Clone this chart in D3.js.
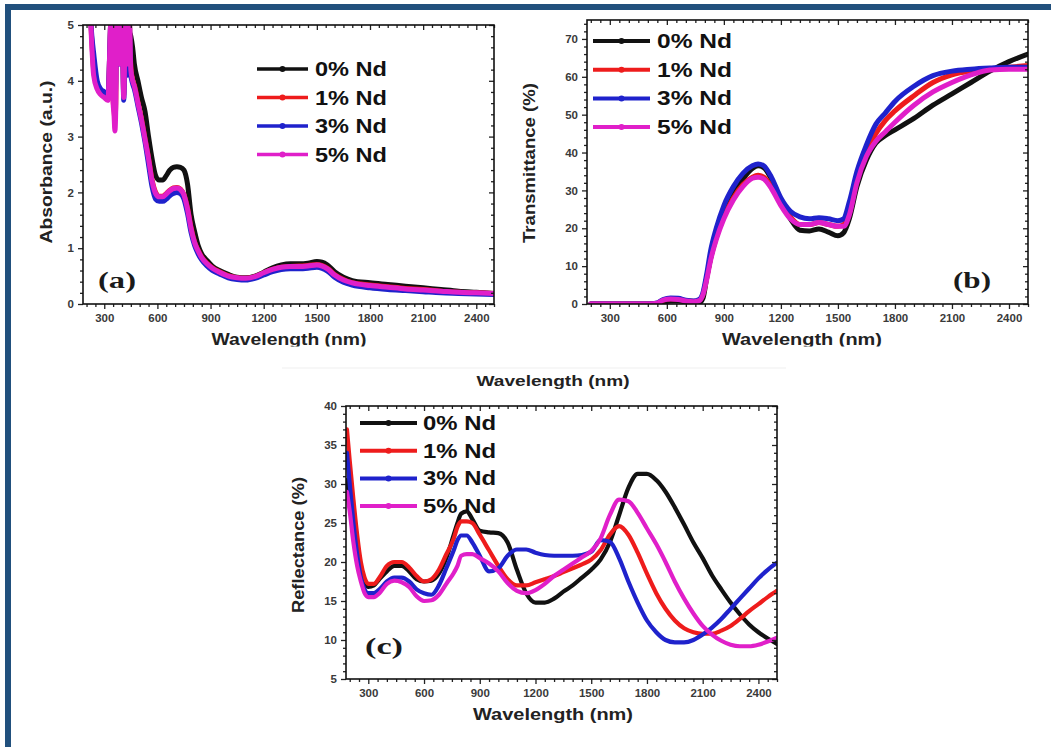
<!DOCTYPE html>
<html>
<head>
<meta charset="utf-8">
<script src="https://cdn.jsdelivr.net/npm/d3@7"></script>
<style>
  html, body { margin: 0; padding: 0; background: #ffffff; }
  svg { display: block; }
</style>
</head>
<body>
<svg id="fig" width="1051" height="747"></svg>
<script>
// ---- Shared labels ----
const seriesNames = ["0% Nd", "1% Nd", "3% Nd", "5% Nd"];
const xTickValues = [300, 600, 900, 1200, 1500, 1800, 2100, 2400];
const absTickValues = [0, 1, 2, 3, 4, 5];
const transTickValues = [0, 10, 20, 30, 40, 50, 60, 70];
const reflTickValues = [5, 10, 15, 20, 25, 30, 35, 40];

// ---- (a) Absorbance ----
const wlAbs = [210,220,230,240,260,280,300,320,340,350,355,360,365,370,375,380,390,400,410,420,430,440,450,460,470,
  490,510,530,550,570,590,610,630,650,670,690,710,730,750,770,790,810,830,850,880,910,950,
  1000,1050,1100,1150,1200,1250,1300,1350,1400,1450,1500,1530,1560,1600,1650,1700,
  1800,1900,2000,2100,2200,2300,2400,2500];
const abs0 = [null,null,null,null,null,null,null,null,5.2,4.9,5.2,4.6,5.2,4.8,5.2,4.7,5.2,4.7,5.2,4.8,5.2,4.9,4.8,4.6,4.3,
  4.0,3.7,3.45,3.0,2.6,2.3,2.22,2.22,2.3,2.4,2.45,2.46,2.45,2.4,2.15,1.6,1.3,1.05,0.9,0.78,0.68,0.6,
  0.53,0.48,0.47,0.5,0.57,0.65,0.7,0.72,0.72,0.73,0.76,0.75,0.7,0.58,0.48,0.42,
  0.38,0.35,0.32,0.29,0.26,0.23,0.21,0.19];
const abs1 = [5.2,5.2,4.7,4.2,3.9,3.8,3.72,3.66,5.2,3.65,3.5,3.3,3.6,5.2,4.5,5.2,4.4,5.2,3.75,5.2,4.4,5.2,4.25,4.02,3.92,
  3.62,3.32,2.97,2.62,2.22,2.0,1.93,1.93,1.98,2.04,2.08,2.09,2.06,1.96,1.72,1.37,1.11,0.96,0.84,0.73,0.65,0.58,
  0.51,0.47,0.46,0.49,0.56,0.62,0.66,0.67,0.68,0.69,0.71,0.69,0.64,0.53,0.44,0.38,
  0.34,0.31,0.28,0.26,0.23,0.21,0.2,0.19];
const abs3 = [5.2,5.2,4.8,4.5,4.0,3.85,3.8,3.7,5.2,3.7,4.3,3.6,4.0,5.2,4.6,4.3,4.3,5.2,3.65,4.9,4.1,5.2,4.1,3.95,3.85,
  3.55,3.25,2.9,2.5,2.1,1.88,1.84,1.84,1.88,1.94,1.98,2.0,1.98,1.88,1.62,1.28,1.05,0.9,0.79,0.68,0.6,0.54,
  0.47,0.44,0.43,0.46,0.52,0.58,0.62,0.63,0.63,0.64,0.66,0.64,0.59,0.48,0.39,0.34,
  0.29,0.26,0.24,0.22,0.2,0.19,0.18,0.17];
const abs5 = [5.2,5.2,4.6,4.1,3.85,3.75,3.7,3.65,5.2,3.6,3.4,3.1,3.5,5.2,4.4,5.2,4.3,5.2,3.7,5.2,4.3,5.2,4.2,4.0,3.9,
  3.6,3.3,2.95,2.6,2.2,1.98,1.92,1.92,1.97,2.03,2.07,2.08,2.05,1.95,1.7,1.35,1.1,0.95,0.83,0.72,0.64,0.57,
  0.5,0.47,0.46,0.49,0.56,0.62,0.66,0.67,0.67,0.68,0.7,0.68,0.63,0.52,0.43,0.38,
  0.33,0.3,0.27,0.25,0.23,0.21,0.2,0.19];

// ---- (b) Transmittance ----
const wlTrans = [200,300,400,500,550,580,620,660,700,740,770,790,810,830,860,900,950,1000,1050,1080,
  1110,1150,1200,1250,1300,1350,1400,1450,1500,1530,1560,1600,1650,1700,1750,1800,1900,2000,2100,2200,2300,2400,2500];
const trans0 = [0,0,0,0,0,0.3,0.8,0.8,0.6,0.3,0.3,1.5,7,12,18,24,29,33,35.8,36.5,
  36,33,27,22.5,19.5,19.3,19.8,19,18,18.8,22.5,31,38,42.5,44.5,46,49,52.5,55.5,58.5,61.5,64,66];
const trans1 = [0,0,0,0,0.2,1.0,1.4,1.3,0.9,0.7,1.0,2.5,7,12,17.5,23,28,31.5,33.5,34,
  33.5,31,26.5,23,21,21,21.5,21,20.5,21,24,33,40,45,48.5,51,55,58.5,60.5,61.5,62,62.5,63];
const trans3 = [0,0,0,0,0.3,1.2,1.6,1.5,1.0,0.8,1.2,3,8,14,20,26,31,34.5,36.5,37,
  36.5,33.5,28,24.5,23,22.5,22.8,22.5,22,22.5,27,35,42,47.5,50.5,53.5,57.5,60.3,61.5,62,62.3,62.5,62.5];
const trans5 = [0,0,0,0,0.2,1.0,1.3,1.2,0.8,0.6,0.9,2.5,6.5,11.5,17,22.5,27.5,31,33.2,33.5,
  33,30.5,26,22.5,21,21,21.5,21,20.5,20.5,23.5,32,39,43,45.5,48,52.5,56,58.5,60.5,61.8,62,62];

// ---- (c) Reflectance ----
const wlRefl = [185,200,220,240,260,280,300,330,360,400,440,480,520,560,600,640,680,720,760,780,800,830,860,900,950,
  1000,1050,1100,1150,1200,1250,1300,1350,1400,1450,1500,1550,1600,1650,1700,1750,1800,1850,1900,1950,
  2000,2050,2100,2150,2200,2250,2300,2350,2400,2450,2500];
const refl0 = [30.5,28,24,21,18.5,17.3,16.8,17,17.8,18.8,19.5,19.5,18.8,17.8,17.5,17.6,18.5,20.5,23.5,25,26.2,26.5,25.5,24,23.8,
  23.7,22.5,19,16,14.8,14.8,15.3,16.2,17,18,19,20.3,22.5,26,29.5,31.3,31.3,30.5,29,27,
  24.8,22.5,20.5,18.3,16.5,14.8,13.3,12,11,10.2,9.5];
const refl1 = [37,33,28,23.5,20,18,17.2,17.2,18,19.5,20,20,19.3,18.2,17.5,17.8,19,21,23,24.5,25.2,25.2,25,23.5,21.5,
  19.5,17.8,17,17,17.4,17.8,18.2,18.7,19.2,19.7,20.3,21.5,23.5,24.6,23.5,21.2,18.5,16,14,12.5,
  11.5,11,10.8,10.8,11.2,11.8,12.7,13.7,14.6,15.5,16.3];
const refl3 = [34,30,25,21,18,16.5,16,16,16.5,17.5,18,18,17.5,16.5,16,15.8,17,19.2,21.5,22.8,23.4,23.4,22.5,20.8,18.8,
  19.2,20.8,21.6,21.6,21.2,20.9,20.8,20.8,20.8,20.9,21.3,22.8,22.6,20.5,17.5,14.8,12.5,11,10,9.7,
  9.7,10,10.7,11.6,12.7,14,15.3,16.6,17.9,19,19.9];
const refl5 = [29,26.5,22.5,19.5,17.5,16,15.5,15.5,16,17.2,17.6,17.4,16.8,15.6,15,15.1,15.8,17.2,18.6,19.5,20.8,21,21,20.5,19.8,
  18.8,17.3,16.3,16,16.4,17.2,18.2,19,19.8,20.6,21.4,23,26,28,27.8,26.3,24.3,22.3,20,17.5,
  15.3,13.4,11.8,10.7,9.9,9.4,9.2,9.2,9.4,9.8,10.3];

// ---- Drawing ----
const seriesColors = ["#111111", "#ee1c1c", "#1f22cc", "#e01fc9"];
const fontSans = "'Liberation Sans', Arial, Helvetica, sans-serif";
const fontSerif = "'Liberation Serif', 'Times New Roman', serif";
const plainNumber = d3.format("d");

const svg = d3.select("#fig");
const defs = svg.append("defs");

svg.append("rect").attr("width", 1051).attr("height", 747).attr("fill", "#ffffff");

// outer frame (top bar and left bar)
svg.append("rect").attr("x", 5).attr("y", 4).attr("width", 1046).attr("height", 6).attr("fill", "#21507d");
svg.append("rect").attr("x", 5).attr("y", 4).attr("width", 6).attr("height", 743).attr("fill", "#21507d");

// faint edge of the lower figure
svg.append("line").attr("x1", 282).attr("x2", 786).attr("y1", 368).attr("y2", 368)
  .attr("stroke", "#efefef").attr("stroke-width", 1);

// clip for the cut-off bottom titles of the upper panels
defs.append("clipPath").attr("id", "clip-upper").append("rect")
  .attr("x", 0).attr("y", 0).attr("width", 1051).attr("height", 346.5);

function drawPanel(p) {
  const x = d3.scaleLinear().domain([180, 2500]).range([p.left, p.right]);
  const y = d3.scaleLinear().domain(p.yDomain).range([p.bottom, p.top]);
  const clipId = "clip-" + p.id;
  defs.append("clipPath").attr("id", clipId).append("rect")
    .attr("x", p.left).attr("y", p.top)
    .attr("width", p.right - p.left).attr("height", p.bottom - p.top);

  const g = svg.append("g");
  const line = d3.line()
    .defined(d => d[1] != null)
    .x(d => x(d[0])).y(d => y(d[1]))
    .curve(d3.curveMonotoneX);

  p.series.forEach((vals, i) => {
    g.append("path")
      .datum(p.wl.map((w, j) => [w, vals[j]]))
      .attr("clip-path", `url(#${clipId})`)
      .attr("d", line)
      .attr("fill", "none")
      .attr("stroke", seriesColors[i])
      .attr("stroke-width", p.lw)
      .attr("stroke-linejoin", "round")
      .attr("stroke-linecap", "round");
  });

  // axes
  const xMinor = d3.range(200, 2501, 50).filter(v => v % 300 !== 0);
  const [y0, y1] = p.yDomain;
  const yMinor = d3.range(y0, y1 + 1e-9, p.yMinorStep)
    .filter(v => !p.yTicks.some(t => Math.abs(t - v) < 1e-6));

  function styleAxis(sel) {
    sel.select(".domain").remove();
    sel.selectAll(".tick line").attr("stroke", "#222").attr("stroke-width", 1.3);
    sel.selectAll(".tick text")
      .attr("font-family", fontSans).attr("font-weight", "bold")
      .attr("font-size", 11.5).attr("fill", "#3a3a3a");
  }

  g.append("g").attr("transform", `translate(0,${p.bottom})`)
    .call(d3.axisBottom(x).tickValues(xTickValues).tickFormat(plainNumber).tickSize(5).tickPadding(5)).call(styleAxis);
  g.append("g").attr("transform", `translate(0,${p.bottom})`)
    .call(d3.axisBottom(x).tickValues(xMinor).tickSize(3).tickFormat("")).call(styleAxis);
  g.append("g").attr("transform", `translate(0,${p.top})`)
    .call(d3.axisTop(x).tickValues(xTickValues).tickSize(-5).tickFormat("")).call(styleAxis);
  g.append("g").attr("transform", `translate(0,${p.top})`)
    .call(d3.axisTop(x).tickValues(xMinor).tickSize(-3).tickFormat("")).call(styleAxis);

  g.append("g").attr("transform", `translate(${p.left},0)`)
    .call(d3.axisLeft(y).tickValues(p.yTicks).tickFormat(plainNumber).tickSize(5).tickPadding(4)).call(styleAxis);
  g.append("g").attr("transform", `translate(${p.left},0)`)
    .call(d3.axisLeft(y).tickValues(yMinor).tickSize(3).tickFormat("")).call(styleAxis);
  g.append("g").attr("transform", `translate(${p.right},0)`)
    .call(d3.axisRight(y).tickValues(p.yTicks).tickSize(-5).tickFormat("")).call(styleAxis);
  g.append("g").attr("transform", `translate(${p.right},0)`)
    .call(d3.axisRight(y).tickValues(yMinor).tickSize(-3).tickFormat("")).call(styleAxis);

  g.append("rect")
    .attr("x", p.left).attr("y", p.top)
    .attr("width", p.right - p.left).attr("height", p.bottom - p.top)
    .attr("fill", "none").attr("stroke", "#111").attr("stroke-width", 1.6);

  // y title
  g.append("text")
    .attr("transform", `translate(${p.yTitle.x},${p.yTitle.y}) rotate(-90)`)
    .attr("text-anchor", "middle")
    .attr("font-family", fontSans).attr("font-weight", "bold")
    .attr("font-size", 16).attr("fill", "#222")
    .attr("textLength", p.yTitle.len).attr("lengthAdjust", "spacingAndGlyphs")
    .text(p.yTitle.text);

  // x title(s)
  p.xTitles.forEach(t => {
    const tx = g.append("text")
      .attr("x", t.x).attr("y", t.y)
      .attr("text-anchor", "middle")
      .attr("font-family", fontSans).attr("font-weight", "bold")
      .attr("font-size", t.size).attr("fill", "#222")
      .attr("textLength", t.len).attr("lengthAdjust", "spacingAndGlyphs")
      .text("Wavelength (nm)");
    if (t.clip) tx.attr("clip-path", "url(#clip-upper)");
  });

  // panel tag
  g.append("text")
    .attr("x", p.tag.x).attr("y", p.tag.y)
    .attr("font-family", fontSerif).attr("font-weight", "bold")
    .attr("font-size", 24).attr("fill", "#1a1a1a")
    .attr("textLength", 38).attr("lengthAdjust", "spacingAndGlyphs")
    .text(p.tag.text);

  // legend
  seriesNames.forEach((name, i) => {
    const ry = p.legend.y + i * p.legend.dy;
    g.append("line")
      .attr("x1", p.legend.x0).attr("x2", p.legend.x1)
      .attr("y1", ry).attr("y2", ry)
      .attr("stroke", seriesColors[i]).attr("stroke-width", p.legend.lw);
    g.append("circle")
      .attr("cx", (p.legend.x0 + p.legend.x1) / 2).attr("cy", ry).attr("r", 3)
      .attr("fill", seriesColors[i]);
    g.append("text")
      .attr("x", p.legend.tx).attr("y", ry + 7)
      .attr("font-family", fontSans).attr("font-weight", "bold")
      .attr("font-size", 19.5).attr("fill", "#111")
      .attr("textLength", p.legend.tlen).attr("lengthAdjust", "spacingAndGlyphs")
      .text(name);
  });
}

drawPanel({
  id: "a", left: 83, right: 494, top: 25, bottom: 304,
  yDomain: [0, 5], yTicks: absTickValues, yMinorStep: 0.2,
  wl: wlAbs, series: [abs0, abs1, abs3, abs5], lw: 5,
  yTitle: { text: "Absorbance (a.u.)", x: 52, y: 162, len: 163 },
  xTitles: [{ x: 289, y: 345, size: 17, len: 155, clip: true }],
  tag: { text: "(a)", x: 98, y: 288 },
  legend: { x0: 257, x1: 308, y: 69, dy: 28.5, lw: 3.5, tx: 315, tlen: 72 }
});

drawPanel({
  id: "b", left: 587, right: 1028, top: 20, bottom: 304,
  yDomain: [0, 75], yTicks: transTickValues, yMinorStep: 2,
  wl: wlTrans, series: [trans0, trans1, trans3, trans5], lw: 5,
  yTitle: { text: "Transmittance (%)", x: 535, y: 163, len: 160 },
  xTitles: [{ x: 802, y: 345, size: 17, len: 160, clip: true }],
  tag: { text: "(b)", x: 953, y: 288 },
  legend: { x0: 593, x1: 650, y: 41, dy: 28.7, lw: 4, tx: 657, tlen: 75 }
});

drawPanel({
  id: "c", left: 346, right: 777, top: 406, bottom: 679,
  yDomain: [5, 40], yTicks: reflTickValues, yMinorStep: 1,
  wl: wlRefl, series: [refl0, refl1, refl3, refl5], lw: 4.2,
  yTitle: { text: "Reflectance (%)", x: 304, y: 545, len: 136 },
  xTitles: [
    { x: 553, y: 720, size: 16.5, len: 160, clip: false },
    { x: 553, y: 386, size: 15.5, len: 153, clip: false }
  ],
  tag: { text: "(c)", x: 365, y: 654 },
  legend: { x0: 360, x1: 417, y: 423, dy: 27.7, lw: 4, tx: 423, tlen: 73 }
});
</script>
</body>
</html>
